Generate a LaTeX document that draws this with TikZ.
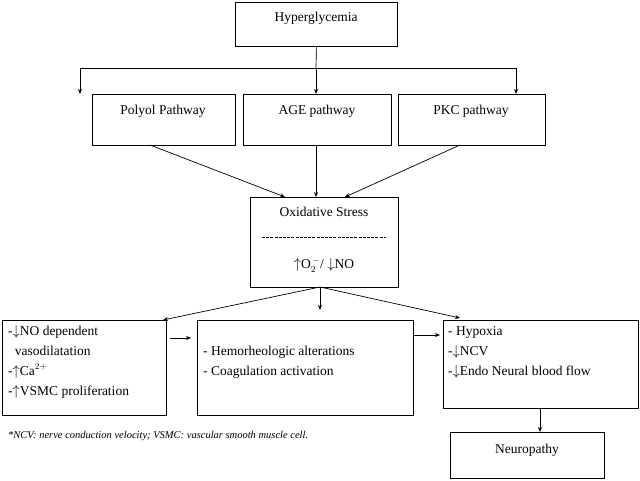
\documentclass[tikz,border=0pt]{standalone}
\usepackage{fontspec}
\setmainfont{Liberation Serif}
\usetikzlibrary{arrows.meta}
\newcommand{\up}{\ensuremath{\uparrow}}
\newcommand{\dn}{\ensuremath{\downarrow}}
\begin{document}
\begin{tikzpicture}[x=1pt,y=-1pt,
  box/.style={draw,line width=0.8pt,inner sep=0},
  arr/.style={-{Stealth[length=5pt,width=4pt]},line width=0.7pt},
  txt/.style={font=\fontsize{13.5}{20}\selectfont,align=left,anchor=north west,inner sep=0}]
\useasboundingbox (0,0) rectangle (640,481);
\fill[white] (0,0) rectangle (640,481);
\node[box,minimum width=162,minimum height=44,anchor=north west] (h) at (235,2) {};
\node[txt,anchor=center] at (316,18) {Hyperglycemia};
\node[box,minimum width=143,minimum height=51,anchor=north west] (p) at (92,94) {};
\node[txt,anchor=center] at (163,111) {Polyol Pathway};
\node[box,minimum width=148,minimum height=51,anchor=north west] (a) at (243,94) {};
\node[txt,anchor=center] at (317,111) {AGE pathway};
\node[box,minimum width=147,minimum height=51,anchor=north west] (k) at (398,94) {};
\node[txt,anchor=center] at (471,111) {PKC pathway};
\node[box,minimum width=148,minimum height=90,anchor=north west] (o) at (250,197) {};
\node[txt,anchor=center] at (324,212) {Oxidative Stress};
\draw[line width=0.8pt,dash pattern=on 3pt off 1.2pt] (262,237) -- (386,237);
\node[txt,anchor=center] at (324,265) {\up O$_2^{\,-}$/ \dn NO};
\node[box,minimum width=164,minimum height=95,anchor=north west] (l) at (2,320) {};
\node[txt] at (8,325) {-\dn NO dependent\\\ \ vasodilatation\\-\up Ca$^{2+}$\\-\up VSMC proliferation};
\node[box,minimum width=216,minimum height=95,anchor=north west] (m) at (197,320) {};
\node[txt] at (203,346) {- Hemorheologic alterations\\- Coagulation activation};
\node[box,minimum width=195,minimum height=88,anchor=north west] (r) at (443,320) {};
\node[txt] at (448,326) {- Hypoxia\\-\dn NCV\\-\dn Endo Neural blood flow};
\node[box,minimum width=154,minimum height=46,anchor=north west] (n) at (450,432) {};
\node[txt,anchor=center] at (527,450) {Neuropathy};
\node[txt,font=\fontsize{10.5}{12}\selectfont\itshape] at (8,431) {*NCV: nerve conduction velocity; VSMC: vascular smooth muscle cell.};
\coordinate (j) at (316,68);
\draw[line width=0.7pt] (h.south) -- (j);
\draw[line width=0.7pt] (80,68) -- (516,68);
\draw[arr] (80,68) -- (80,94);
\draw[arr] (j) -- (316,94);
\draw[arr] (516,68) -- (516,94);
\draw[arr] (150,145) -- (285,197);
\draw[arr] (316,145) -- (316,197);
\draw[arr] (460,145) -- (345,197);
\coordinate (ob) at (320,287);
\draw[arr] (ob) -- (163,320);
\draw[arr] (ob) -- (320,310);
\draw[arr] (ob) -- (460,318);
\draw[arr] (170,338) -- (191,338);
\draw[arr] (413,335) -- (440,335);
\draw[arr] (540,408) -- (540,432);
\end{tikzpicture}
\end{document}
